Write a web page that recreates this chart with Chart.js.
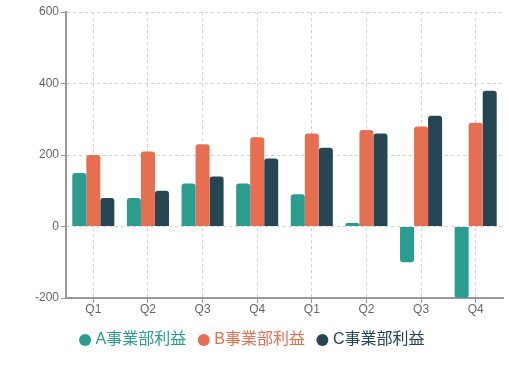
<!DOCTYPE html>
<html>
<head>
<meta charset="utf-8">
<script src="https://cdn.jsdelivr.net/npm/chart.js@4/dist/chart.umd.min.js"></script>
<style>
  html, body { margin: 0; padding: 0; background: #fff; }
  #wrap { width: 509px; height: 368px; }
</style>
</head>
<body>
<div id="wrap"><canvas id="profitChart"></canvas></div>
<script>
const quarters = ["Q1", "Q2", "Q3", "Q4", "Q1", "Q2", "Q3", "Q4"];
const seriesNames = ["A事業部利益", "B事業部利益", "C事業部利益"];
const profitA = [150, 80, 120, 120, 90, 10, -100, -200];
const profitB = [200, 210, 230, 250, 260, 270, 280, 290];
const profitC = [80, 100, 140, 190, 220, 260, 310, 380];
const colors = ["#2a9d8f", "#e76f51", "#264653"];

const ctx = document.getElementById("profitChart").getContext("2d");

const fontFamily = "'Liberation Sans', 'Noto Sans CJK JP', sans-serif";

new Chart(ctx, {
  type: "bar",
  data: {
    labels: quarters,
    datasets: [profitA, profitB, profitC].map((vals, i) => ({
      label: seriesNames[i],
      data: vals,
      backgroundColor: colors[i],
      borderRadius: 3,
      borderSkipped: "start",
      categoryPercentage: 0.77,
      barPercentage: 1
    }))
  },
  options: {
    responsive: true,
    maintainAspectRatio: false,
    animation: false,
    layout: { padding: { left: 4, right: 6, top: 12, bottom: 10 } },
    plugins: {
      tooltip: { enabled: false },
      legend: {
        position: "bottom",
        labels: {
          usePointStyle: true,
          pointStyle: "circle",
          boxWidth: 5,
          boxHeight: 8.5,
          padding: 15,
          font: { size: 16, family: fontFamily },
          generateLabels: (chart) => chart.data.datasets.map((ds, i) => ({
            text: ds.label,
            fillStyle: ds.backgroundColor,
            strokeStyle: ds.backgroundColor,
            lineWidth: 0,
            pointStyle: "circle",
            fontColor: ds.backgroundColor,
            datasetIndex: i,
            hidden: false
          }))
        }
      }
    },
    scales: {
      x: {
        grid: {
          offset: false,
          color: "#d0d0d0",
          tickLength: 5,
          tickColor: "#999"
        },
        border: { display: true, color: "#999", width: 2, dash: [3, 3] },
        ticks: { color: "#666", font: { size: 12, family: fontFamily, lineHeight: 1 }, padding: 1 }
      },
      y: {
        min: -200,
        max: 600,
        afterFit: (scale) => { scale.width = 62; },
        ticks: { stepSize: 200, color: "#666", font: { size: 12, family: fontFamily }, padding: 2 },
        grid: {
          color: "#d0d0d0",
          tickLength: 5,
          tickColor: "#999"
        },
        border: { display: true, color: "#999", width: 2, dash: [3, 3] }
      }
    }
  }
});
</script>
</body>
</html>
